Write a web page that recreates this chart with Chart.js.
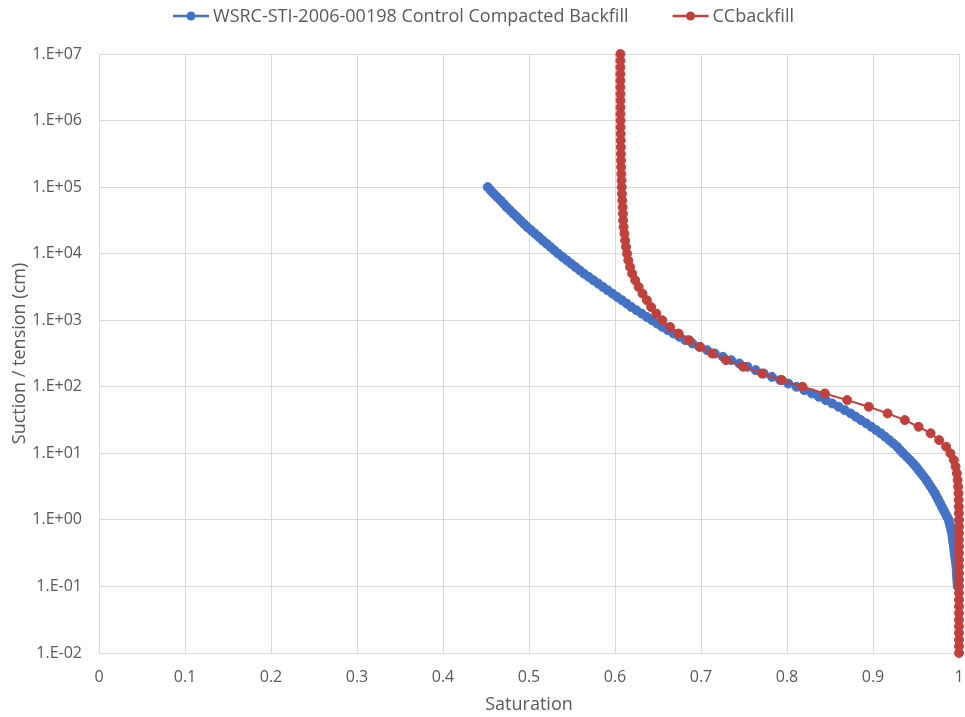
<!DOCTYPE html>
<html>
<head>
<meta charset="utf-8">
<script src="https://cdn.jsdelivr.net/npm/chart.js@4.4.0/dist/chart.umd.min.js"></script>
<style>
  html, body { margin: 0; padding: 0; background: #fff; }
</style>
</head>
<body>
<canvas id="myChart" width="965" height="717"></canvas>
<script>
// suction (cm) vs saturation, two retention curves
const seriesNames = ["WSRC-STI-2006-00198 Control Compacted Backfill", "CCbackfill"];

const wsrcSuction = [
  1.00E+05, 8.91E+04, 7.94E+04, 7.08E+04, 6.31E+04, 5.62E+04, 5.01E+04, 4.47E+04, 3.98E+04, 3.55E+04,
  3.16E+04, 2.82E+04, 2.51E+04, 2.24E+04, 2.00E+04, 1.78E+04, 1.58E+04, 1.41E+04, 1.26E+04, 1.12E+04,
  1.00E+04, 8.91E+03, 7.94E+03, 7.08E+03, 6.31E+03, 5.62E+03, 5.01E+03, 4.47E+03, 3.98E+03, 3.55E+03,
  3.16E+03, 2.82E+03, 2.51E+03, 2.24E+03, 2.00E+03, 1.78E+03, 1.58E+03, 1.41E+03, 1.26E+03, 1.12E+03,
  1.00E+03, 8.91E+02, 7.94E+02, 7.08E+02, 6.31E+02, 5.62E+02, 5.01E+02, 4.47E+02, 3.98E+02, 3.55E+02,
  3.16E+02, 2.82E+02, 2.51E+02, 2.24E+02, 2.00E+02, 1.78E+02, 1.58E+02, 1.41E+02, 1.26E+02, 1.12E+02,
  1.00E+02, 8.91E+01, 7.94E+01, 7.08E+01, 6.31E+01, 5.62E+01, 5.01E+01, 4.47E+01, 3.98E+01, 3.55E+01,
  3.16E+01, 2.82E+01, 2.51E+01, 2.24E+01, 2.00E+01, 1.78E+01, 1.58E+01, 1.41E+01, 1.26E+01, 1.12E+01,
  1.00E+01, 8.91E+00, 7.94E+00, 7.08E+00, 6.31E+00, 5.62E+00, 5.01E+00, 4.47E+00, 3.98E+00, 3.55E+00,
  3.16E+00, 2.82E+00, 2.51E+00, 2.24E+00, 2.00E+00, 1.78E+00, 1.58E+00, 1.41E+00, 1.26E+00, 1.12E+00,
  1.00E+00, 8.91E-01, 7.94E-01, 7.08E-01, 6.31E-01, 5.62E-01, 5.01E-01, 4.47E-01, 3.98E-01, 3.55E-01,
  3.16E-01, 2.82E-01, 2.51E-01, 2.24E-01, 2.00E-01, 1.78E-01, 1.58E-01, 1.41E-01, 1.26E-01, 1.12E-01,
  1.00E-01
];
const wsrcSaturation = [
  0.452, 0.4555, 0.459, 0.463, 0.467, 0.4705, 0.474, 0.478, 0.482, 0.486,
  0.490, 0.494, 0.498, 0.5025, 0.507, 0.5115, 0.516, 0.5205, 0.525, 0.5295,
  0.534, 0.539, 0.544, 0.549, 0.554, 0.559, 0.564, 0.5695, 0.575, 0.5805,
  0.586, 0.5915, 0.597, 0.6025, 0.608, 0.6135, 0.619, 0.625, 0.631, 0.637,
  0.643, 0.649, 0.655, 0.6615, 0.668, 0.675, 0.682, 0.690, 0.698, 0.707,
  0.716, 0.7255, 0.735, 0.7445, 0.754, 0.7635, 0.773, 0.7825, 0.792, 0.8015,
  0.811, 0.820, 0.829, 0.837, 0.845, 0.8525, 0.860, 0.867, 0.874, 0.880,
  0.886, 0.892, 0.898, 0.9035, 0.909, 0.914, 0.919, 0.9235, 0.928, 0.9315,
  0.935, 0.939, 0.943, 0.9465, 0.950, 0.953, 0.956, 0.959, 0.962, 0.9645,
  0.967, 0.9695, 0.972, 0.974, 0.976, 0.978, 0.980, 0.982, 0.984, 0.986,
  0.988, 0.989, 0.990, 0.991, 0.992, 0.9925, 0.993, 0.9935, 0.994, 0.9945,
  0.995, 0.9955, 0.996, 0.9965, 0.997, 0.9973, 0.9975, 0.9978, 0.998, 0.9983,
  0.9985
];

const ccSuction = [
  1.00E+07, 7.94E+06, 6.31E+06, 5.01E+06, 3.98E+06, 3.16E+06, 2.51E+06, 2.00E+06, 1.58E+06, 1.26E+06,
  1.00E+06, 7.94E+05, 6.31E+05, 5.01E+05, 3.98E+05, 3.16E+05, 2.51E+05, 2.00E+05, 1.58E+05, 1.26E+05,
  1.00E+05, 7.94E+04, 6.31E+04, 5.01E+04, 3.98E+04, 3.16E+04, 2.51E+04, 2.00E+04, 1.58E+04, 1.26E+04,
  1.00E+04, 7.94E+03, 6.31E+03, 5.01E+03, 3.98E+03, 3.16E+03, 2.51E+03, 2.00E+03, 1.58E+03, 1.26E+03,
  1.00E+03, 7.94E+02, 6.31E+02, 5.01E+02, 3.98E+02, 3.16E+02, 2.51E+02, 2.00E+02, 1.58E+02, 1.26E+02,
  1.00E+02, 7.94E+01, 6.31E+01, 5.01E+01, 3.98E+01, 3.16E+01, 2.51E+01, 2.00E+01, 1.58E+01, 1.26E+01,
  1.00E+01, 7.94E+00, 6.31E+00, 5.01E+00, 3.98E+00, 3.16E+00, 2.51E+00, 2.00E+00, 1.58E+00, 1.26E+00,
  1.00E+00, 7.94E-01, 6.31E-01, 5.01E-01, 3.98E-01, 3.16E-01, 2.51E-01, 2.00E-01, 1.58E-01, 1.26E-01,
  1.00E-01, 7.94E-02, 6.31E-02, 5.01E-02, 3.98E-02, 3.16E-02, 2.51E-02, 2.00E-02, 1.58E-02, 1.26E-02,
  1.00E-02
];
const ccSaturation = [
  0.6063, 0.6063, 0.6063, 0.6063, 0.6063, 0.6063, 0.6064, 0.6064, 0.6064, 0.6064,
  0.6065, 0.6065, 0.6066, 0.6067, 0.6068, 0.6069, 0.6070, 0.6072, 0.6074, 0.6076,
  0.6078, 0.6081, 0.6084, 0.6089, 0.6092, 0.6095, 0.6100, 0.6110, 0.6118, 0.6128,
  0.614, 0.6155, 0.6175, 0.620, 0.6235, 0.6275, 0.632, 0.637, 0.642, 0.648,
  0.655, 0.664, 0.674, 0.686, 0.699, 0.713, 0.729, 0.749, 0.771, 0.794,
  0.818, 0.844, 0.870, 0.895, 0.917, 0.937, 0.953, 0.967, 0.977, 0.985,
  0.990, 0.994, 0.996, 0.9975, 0.9984, 0.999, 0.9994, 0.9996, 0.9998, 0.9999,
  1.0, 1.0, 1.0, 1.0, 1.0, 1.0, 1.0, 1.0, 1.0, 1.0,
  1.0, 1.0, 1.0, 1.0, 1.0, 1.0, 1.0, 1.0, 1.0, 1.0,
  1.0
];

const xTicks = [0, 0.1, 0.2, 0.3, 0.4, 0.5, 0.6, 0.7, 0.8, 0.9, 1];
const xTickLabels = ["0", "0.1", "0.2", "0.3", "0.4", "0.5", "0.6", "0.7", "0.8", "0.9", "1"];
const yTicks = [1e-2, 1e-1, 1e0, 1e1, 1e2, 1e3, 1e4, 1e5, 1e6, 1e7];
const yTickLabels = ["1.E-02", "1.E-01", "1.E+00", "1.E+01", "1.E+02", "1.E+03", "1.E+04", "1.E+05", "1.E+06", "1.E+07"];

const blue = "#4472C4";
const red = "#C0413B";
const textColor = "#595959";
const gridColor = "#D9D9D9";
const fontFamily = "'Open Sans', sans-serif";

function toPoints(xs, ys) {
  return xs.map((x, i) => ({ x: x, y: ys[i] }));
}

// legend row drawn by hand: line-with-dot swatch, then the series name
const lineLegend = {
  id: "lineLegend",
  afterDraw(chart) {
    const c = chart.ctx;
    c.save();
    c.font = "18px " + fontFamily;
    c.textBaseline = "middle";
    const swatch = 36, gapText = 4, gapItem = 44;
    const items = chart.data.datasets.map(ds => ({
      text: ds.label, color: ds.borderColor, w: c.measureText(ds.label).width
    }));
    let total = 0;
    items.forEach((it, i) => { total += swatch + gapText + it.w + (i ? gapItem : 0); });
    let x = (chart.width - total) / 2 + 1;
    const y = 16;
    items.forEach((it, i) => {
      if (i) x += gapItem;
      c.strokeStyle = it.color;
      c.lineWidth = 2.5;
      c.beginPath(); c.moveTo(x, y); c.lineTo(x + swatch, y); c.stroke();
      c.fillStyle = it.color;
      c.beginPath(); c.arc(x + swatch / 2, y, 4.5, 0, Math.PI * 2); c.fill();
      x += swatch + gapText;
      c.fillStyle = textColor;
      c.fillText(it.text, x, y + 1);
      x += it.w;
    });
    c.restore();
  }
};

const ctx = document.getElementById("myChart").getContext("2d");
new Chart(ctx, {
  type: "scatter",
  data: {
    datasets: [
      {
        label: seriesNames[0],
        data: toPoints(wsrcSaturation, wsrcSuction),
        showLine: true,
        borderColor: blue,
        backgroundColor: blue,
        borderWidth: 2,
        pointRadius: 4.5,
        pointBorderWidth: 1,
        order: 1,
        clip: false
      },
      {
        label: seriesNames[1],
        data: toPoints(ccSaturation, ccSuction),
        showLine: true,
        borderColor: red,
        backgroundColor: red,
        borderWidth: 2,
        pointRadius: 4.5,
        pointBorderWidth: 1,
        order: 0,
        clip: false
      }
    ]
  },
  plugins: [lineLegend],
  options: {
    responsive: false,
    animation: false,
    devicePixelRatio: 1,
    layout: { padding: 0 },
    plugins: {
      tooltip: { enabled: false },
      legend: { display: false }
    },
    scales: {
      x: {
        type: "linear",
        min: 0,
        max: 1,
        afterBuildTicks: s => { s.ticks = xTicks.map(v => ({ value: v })); },
        afterFit: s => { s.height = 64; s.paddingRight = 6; },
        grid: { color: gridColor, drawTicks: false },
        border: { color: gridColor },
        ticks: {
          color: textColor,
          padding: 15,
          maxRotation: 0,
          font: { family: fontFamily, size: 16 },
          callback: (v, i) => xTickLabels[i]
        },
        title: {
          display: true,
          text: "Saturation",
          color: textColor,
          font: { family: fontFamily, size: 18 },
          padding: { top: 4, bottom: 1 }
        }
      },
      y: {
        type: "logarithmic",
        min: 1e-2,
        max: 1e7,
        afterBuildTicks: s => { s.ticks = yTicks.map(v => ({ value: v })); },
        afterFit: s => { s.width = 99; s.paddingTop = 54; },
        grid: { color: gridColor, drawTicks: false },
        border: { color: gridColor },
        ticks: {
          color: textColor,
          padding: 17,
          font: { family: fontFamily, size: 16 },
          callback: (v, i) => yTickLabels[i]
        },
        title: {
          display: true,
          text: "Suction / tension (cm)",
          color: textColor,
          font: { family: fontFamily, size: 18 },
          padding: { top: 9, bottom: 0 }
        }
      }
    }
  }
});
</script>
</body>
</html>
